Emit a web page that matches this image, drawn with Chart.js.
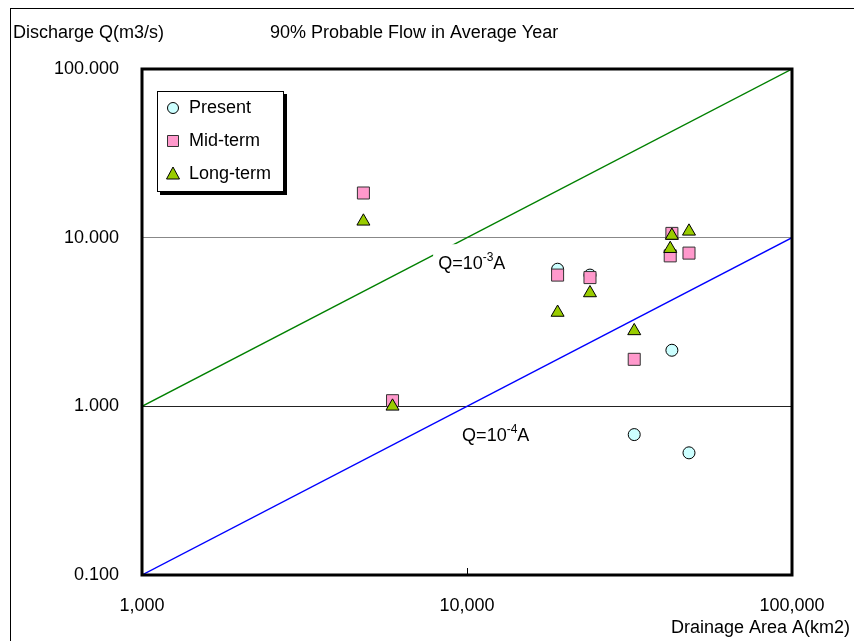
<!DOCTYPE html>
<html>
<head>
<meta charset="utf-8">
<title>90% Probable Flow in Average Year</title>
<script src="https://cdn.jsdelivr.net/npm/chart.js@4/dist/chart.umd.min.js"></script>
<style>
  html, body { margin: 0; padding: 0; background: #fff; }
  #wrap { width: 854px; height: 641px; position: relative; }
</style>
</head>
<body>
<div id="wrap"><canvas id="chart" width="854" height="641"></canvas></div>
<script>
// Drainage area (km2) and discharge (m3/s) of each station
const presentArea = [19000, 23900, 32700, 42700, 48200];
const presentQ    = [6.5,   6.0,   0.68,  2.15,  0.53];

const midArea = [4800, 5900, 19000, 23900, 32700, 42700, 42200, 48200];
const midQ    = [18.4, 1.08, 6.0,   5.8,   1.9,   10.6,  7.8,   8.1];

const longArea = [4800, 5900, 19000, 23900, 32700, 42700, 42200, 48200];
const longQ    = [12.5, 1.0,  3.6,   4.7,   2.8,   10.3,  8.6,   10.9];

// Reference lines Q = c * A over the plotted area range
const areaRange = [1000, 100000];
const lineCoefs = [1e-3, 1e-4];

// Axis ticks
const xTicks = [1000, 10000, 100000];
const yTicks = [0.1, 1, 10, 100];

const FONT = '"Liberation Sans", Arial, sans-serif';

const pairs = (xs, ys) => xs.map((x, i) => ({ x: x, y: ys[i] }));
const refLine = c => areaRange.map(a => ({ x: a, y: c * a }));

const styles = {
  present: { bg: '#CCFFFF', border: '#000000' },
  mid:     { bg: '#FF99CC', border: '#333333' },
  long:    { bg: '#99CC00', border: '#000000' }
};

// Frame, titles, legend box and line labels
const decorations = {
  id: 'decorations',
  afterDatasetsDraw(chart) {
    const ctx = chart.ctx;
    const xs = chart.scales.x, ys = chart.scales.y;
    const area = chart.chartArea;
    ctx.save();

    // Line labels with white backing
    const drawLabel = (a, q, exp, box) => {
      const px = xs.getPixelForValue(a);
      const py = ys.getPixelForValue(q);
      ctx.fillStyle = '#fff';
      ctx.fillRect(px - 5, py - 25, box, 38);
      ctx.fillStyle = '#000';
      ctx.textBaseline = 'alphabetic';
      ctx.textAlign = 'left';
      ctx.font = '18px ' + FONT;
      ctx.fillText('Q=10', px, py);
      let w = ctx.measureText('Q=10').width;
      ctx.font = '12px ' + FONT;
      ctx.fillText(exp, px + w, py - 8);
      w += ctx.measureText(exp).width;
      ctx.font = '18px ' + FONT;
      ctx.fillText('A', px + w, py);
    };
    drawLabel(8150, 6.5, '-3', 84);
    drawLabel(9660, 0.62, '-4', 84);

    // Inner tick at 10,000
    ctx.strokeStyle = '#000';
    ctx.lineWidth = 1;
    const tx = Math.round(xs.getPixelForValue(10000)) + 0.5;
    ctx.beginPath();
    ctx.moveTo(tx, area.bottom);
    ctx.lineTo(tx, area.bottom - 7);
    ctx.stroke();

    // Plot frame
    ctx.lineWidth = 3;
    ctx.strokeRect(area.left, area.top, area.right - area.left, area.bottom - area.top);

    // Outer frame
    ctx.lineWidth = 1;
    ctx.strokeRect(10.5, 8.5, 900, 700);

    // Titles
    ctx.fillStyle = '#000';
    ctx.font = '18px ' + FONT;
    ctx.textBaseline = 'middle';
    ctx.textAlign = 'left';
    ctx.fillText('Discharge Q(m3/s)', 13, 33);
    ctx.fillText('90% Probable Flow in Average Year', 270, 33);
    ctx.textAlign = 'right';
    ctx.fillText('Drainage Area A(km2)', 850, 628);

    // Legend
    const lx = 157, ly = 91, lw = 127, lh = 101;
    ctx.fillStyle = '#000';
    ctx.fillRect(lx + 3, ly + 3, lw, lh);
    ctx.fillStyle = '#fff';
    ctx.fillRect(lx, ly, lw, lh);
    ctx.strokeStyle = '#000';
    ctx.lineWidth = 1;
    ctx.strokeRect(lx + 0.5, ly + 0.5, lw - 1, lh - 1);

    const mx = 173;
    const rows = [
      { label: 'Present', y: 108, kind: 'circle', st: styles.present },
      { label: 'Mid-term', y: 141, kind: 'rect', st: styles.mid },
      { label: 'Long-term', y: 174, kind: 'triangle', st: styles.long }
    ];
    rows.forEach(r => {
      ctx.fillStyle = r.st.bg;
      ctx.strokeStyle = r.st.border;
      ctx.lineWidth = 1;
      ctx.beginPath();
      if (r.kind === 'circle') {
        ctx.arc(mx, r.y, 5.5, 0, Math.PI * 2);
      } else if (r.kind === 'rect') {
        ctx.rect(mx - 5.5, r.y - 5.5, 11, 11);
      } else {
        ctx.moveTo(mx, r.y - 7);
        ctx.lineTo(mx + 6.5, r.y + 5);
        ctx.lineTo(mx - 6.5, r.y + 5);
        ctx.closePath();
      }
      ctx.fill();
      ctx.stroke();
      ctx.fillStyle = '#000';
      ctx.textAlign = 'left';
      ctx.textBaseline = 'middle';
      ctx.font = '18px ' + FONT;
      ctx.fillText(r.label, 189, r.y);
    });

    ctx.restore();
  }
};

new Chart(document.getElementById('chart'), {
  type: 'scatter',
  data: {
    datasets: [
      {
        label: 'Present',
        data: pairs(presentArea, presentQ),
        pointStyle: 'circle',
        pointRadius: 6,
        pointBackgroundColor: styles.present.bg,
        pointBorderColor: styles.present.border,
        pointBorderWidth: 1,
        order: 3
      },
      {
        label: 'Mid-term',
        data: pairs(midArea, midQ),
        pointStyle: 'rect',
        pointRadius: 8.5,
        pointBackgroundColor: styles.mid.bg,
        pointBorderColor: styles.mid.border,
        pointBorderWidth: 1,
        order: 2
      },
      {
        label: 'Long-term',
        data: pairs(longArea, longQ),
        pointStyle: 'triangle',
        pointRadius: 7.5,
        pointBackgroundColor: styles.long.bg,
        pointBorderColor: styles.long.border,
        pointBorderWidth: 1,
        order: 1
      },
      {
        type: 'line',
        label: 'Q=10^-3 A',
        data: refLine(lineCoefs[0]),
        borderColor: '#008000',
        borderWidth: 1.3,
        pointRadius: 0,
        fill: false,
        order: 5
      },
      {
        type: 'line',
        label: 'Q=10^-4 A',
        data: refLine(lineCoefs[1]),
        borderColor: '#0000FF',
        borderWidth: 1.3,
        pointRadius: 0,
        fill: false,
        order: 4
      }
    ]
  },
  options: {
    responsive: false,
    animation: false,
    layout: { padding: { top: 69, right: 62, left: 0, bottom: 0 } },
    plugins: {
      legend: { display: false },
      tooltip: { enabled: false },
      title: { display: false }
    },
    scales: {
      x: {
        type: 'logarithmic',
        min: areaRange[0],
        max: areaRange[1],
        afterBuildTicks: s => { s.ticks = xTicks.map(v => ({ value: v })); },
        afterFit: s => { s.height = 66; },
        grid: { display: false, drawTicks: false },
        border: { display: false },
        ticks: {
          color: '#000',
          font: { family: FONT, size: 18 },
          padding: 20,
          maxRotation: 0,
          autoSkip: false,
          callback: v => Number(v).toLocaleString('en-US')
        }
      },
      y: {
        type: 'logarithmic',
        min: yTicks[0],
        max: yTicks[yTicks.length - 1],
        afterBuildTicks: s => { s.ticks = yTicks.map(v => ({ value: v })); },
        afterFit: s => { s.width = 142; },
        grid: {
          drawTicks: false,
          lineWidth: 1,
          color: c => {
            const v = c.tick && c.tick.value;
            if (v === 1) return '#222222';
            if (v === 10) return '#888888';
            return 'rgba(0,0,0,0)';
          }
        },
        border: { display: false },
        ticks: {
          color: '#000',
          font: { family: FONT, size: 18 },
          padding: 23,
          autoSkip: false,
          callback: v => Number(v).toFixed(3)
        }
      }
    }
  },
  plugins: [decorations]
});
</script>
</body>
</html>
